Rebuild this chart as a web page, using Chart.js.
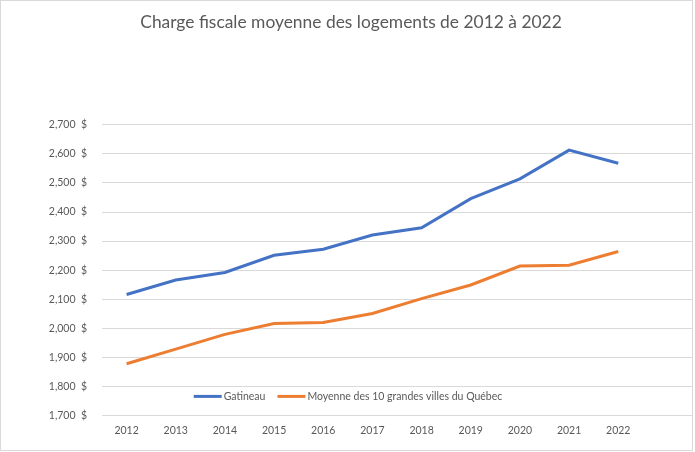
<!DOCTYPE html>
<html>
<head>
<meta charset="utf-8">
<script src="https://cdn.jsdelivr.net/npm/chart.js@4.4.0/dist/chart.umd.min.js"></script>
<style>
	body { margin: 0; background: #ffffff; }
	canvas { display: block; }
</style>
</head>
<body>
<canvas id="chart" width="695" height="452"></canvas>
<script>

// years, the last empty slot is the blank category Excel leaves on the right
var annees = ['2012', '2013', '2014', '2015', '2016', '2017', '2018', '2019', '2020', '2021', '2022', ''];
var gatineau = [2116, 2166, 2192, 2251, 2272, 2321, 2346, 2446, 2514, 2613, 2568];
var moyenne = [1878, 1928, 1979, 2016, 2020, 2051, 2102, 2149, 2214, 2217, 2264];
var yTicks = [1700, 1800, 1900, 2000, 2100, 2200, 2300, 2400, 2500, 2600, 2700];

var police = 'Lato';
var gris = '#595959';

// white page with the thin frame around the chart
var cadre = {
	id: 'cadre',
	beforeDraw: function(chart){
		var c = chart.ctx;
		c.save();
		c.fillStyle = '#ffffff';
		c.fillRect(0, 0, chart.width, chart.height);
		c.strokeStyle = '#d9d9d9';
		c.lineWidth = 1;
		c.strokeRect(0.5, 0.5, 692, 450);
		c.restore();
	}
};

// legend drawn inside the plot, just above the bottom line
var legende = {
	id: 'legende',
	afterDatasetsDraw: function(chart){
		var c = chart.ctx;
		var area = chart.chartArea;
		var sets = chart.data.datasets;
		c.save();
		c.font = '10.5px ' + police;
		c.textBaseline = 'middle';
		var total = 0;
		var largeurs = [];
		for(var i = 0; i < sets.length; i++){
			var w = 28 + 2 + c.measureText(sets[i].label).width;
			largeurs.push(w);
			total += w;
		}
		total += 12 * (sets.length - 1);
		var x = 348 - total / 2;
		var y = area.bottom - 19;
		for(var i = 0; i < sets.length; i++){
			c.strokeStyle = sets[i].borderColor;
			c.lineWidth = 3;
			c.beginPath();
			c.moveTo(x, y);
			c.lineTo(x + 28, y);
			c.stroke();
			c.fillStyle = gris;
			c.fillText(sets[i].label, x + 30, y);
			x += largeurs[i] + 12;
		}
		c.restore();
	}
};

var ctx = document.getElementById('chart');
var chart = new Chart(ctx, {
	type: 'line',
	data: {
		labels: annees,
		datasets: [{
			label: 'Gatineau',
			borderColor: '#4472C4',
			backgroundColor: '#4472C4',
			borderWidth: 3,
			data: gatineau
		}, {
			label: 'Moyenne des 10 grandes villes du Québec',
			borderColor: '#ED7D31',
			backgroundColor: '#ED7D31',
			borderWidth: 3,
			data: moyenne
		}]
	},
	options: {
		responsive: false,
		animation: false,
		devicePixelRatio: 1,
		elements: {
			point: { radius: 0, hoverRadius: 0 },
			line: { tension: 0, borderCapStyle: 'butt' }
		},
		layout: {
			padding: { left: 10, right: 3, top: 12, bottom: 14 }
		},
		plugins: {
			legend: { display: false },
			tooltip: { enabled: false },
			title: {
				display: true,
				text: 'Charge fiscale moyenne des logements de 2012 à 2022',
				color: gris,
				font: { family: police, size: 17.4, weight: 'normal' },
				padding: { top: 0, bottom: 92 }
			}
		},
		scales: {
			x: {
				offset: true,
				grid: { display: false },
				border: { display: false },
				ticks: {
					color: gris,
					font: { family: police, size: 10.5 },
					padding: 1,
					maxRotation: 0,
					autoSkip: false
				}
			},
			y: {
				min: 1700,
				max: 2700,
				afterBuildTicks: function(axis){
					axis.ticks = yTicks.map(function(v){ return { value: v }; });
				},
				afterFit: function(axis){
					axis.width = 92;
				},
				grid: { color: '#d9d9d9', lineWidth: 1, drawTicks: false },
				border: { display: false },
				ticks: {
					color: gris,
					font: { family: police, size: 10.5 },
					padding: 15,
					callback: function(v){
						return v.toLocaleString('en-US') + '\u00a0\u00a0$';
					}
				}
			}
		}
	},
	plugins: [cadre, legende]
});

</script>
</body>
</html>
